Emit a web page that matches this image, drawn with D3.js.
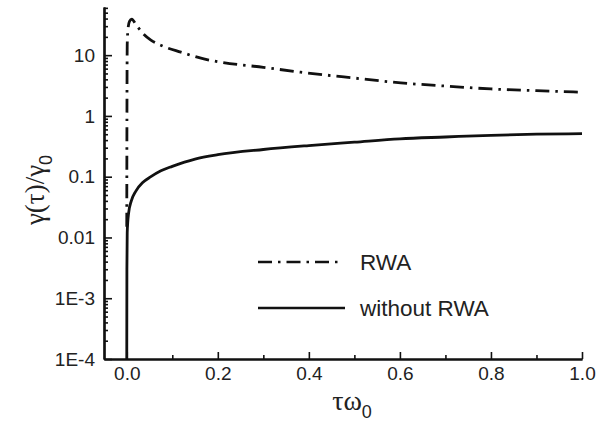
<!DOCTYPE html>
<html>
<head>
<meta charset="utf-8">
<script src="https://cdn.jsdelivr.net/npm/d3@7"></script>
<style>
  body { margin: 0; background: #fff; }
  text { font-family: "Liberation Sans", Arial, sans-serif; fill: #222; }
</style>
</head>
<body>
<svg id="chart" width="611" height="428"></svg>
<script>
// tau*omega0 vs gamma(tau)/gamma0, log y
const rwaTau = [0, 0.0004, 0.001, 0.003, 0.006, 0.011, 0.02, 0.035, 0.053, 0.08, 0.119, 0.163, 0.2, 0.3, 0.382, 0.5, 0.602, 0.7, 0.8, 0.9, 1.0];
const rwaVal = [0.015, 1, 15, 28, 36, 39, 32, 23, 17.7, 14, 11.2, 8.9, 7.8, 6.3, 5.25, 4.2, 3.5, 3.1, 2.78, 2.6, 2.46];

const noRwaTau = [0, 0.0003, 0.001, 0.004, 0.01, 0.02, 0.035, 0.053, 0.075, 0.1, 0.15, 0.2, 0.3, 0.4, 0.5, 0.6, 0.7, 0.8, 0.9, 1.0];
const noRwaVal = [0.0001, 0.003, 0.012, 0.025, 0.04, 0.058, 0.08, 0.1, 0.125, 0.148, 0.195, 0.23, 0.28, 0.325, 0.37, 0.42, 0.45, 0.48, 0.5, 0.51];

const xTicks = [0.0, 0.2, 0.4, 0.6, 0.8, 1.0];
const xMinorTicks = [0.1, 0.3, 0.5, 0.7, 0.9];
const yTicks = [1e-4, 1e-3, 0.01, 0.1, 1, 10];
const yTickLabels = ["1E-4", "1E-3", "0.01", "0.1", "1", "10"];
const legendLabels = ["RWA", "without RWA"];

const svg = d3.select("#chart");
const margin = { top: 7, right: 29, bottom: 69, left: 104 };
const width = 611, height = 428;

const x = d3.scaleLinear()
  .domain([-0.05, 1.0])
  .range([margin.left, width - margin.right]);

const y = d3.scaleLog()
  .domain([1e-4, 62])
  .range([height - margin.bottom, margin.top]);

// minor y ticks 2..9 per decade
const yMinor = [];
for (let d = -4; d <= 1; d++) {
  for (let k = 2; k <= 9; k++) {
    const v = k * Math.pow(10, d);
    if (v <= 62) yMinor.push(v);
  }
}

// axes
svg.append("g")
  .attr("transform", `translate(${margin.left},0)`)
  .call(d3.axisLeft(y).tickValues(yMinor).tickFormat("").tickSize(-4).tickSizeOuter(0));

svg.append("g")
  .attr("transform", `translate(${margin.left},0)`)
  .call(d3.axisLeft(y).tickValues(yTicks)
    .tickFormat((d, i) => yTickLabels[i])
    .tickSize(-8).tickSizeOuter(0).tickPadding(9));

svg.append("g")
  .attr("transform", `translate(0,${height - margin.bottom})`)
  .call(d3.axisBottom(x).tickValues(xMinorTicks).tickFormat("").tickSize(-4).tickSizeOuter(0));

svg.append("g")
  .attr("transform", `translate(0,${height - margin.bottom})`)
  .call(d3.axisBottom(x).tickValues(xTicks).tickFormat(d3.format(".1f"))
    .tickSize(-7).tickSizeOuter(0).tickPadding(8));

svg.selectAll(".domain").attr("stroke", "#111").attr("stroke-width", 2.2);
svg.selectAll(".tick line").attr("stroke", "#111").attr("stroke-width", 1.6);
svg.selectAll(".tick text")
  .attr("font-size", 19)
  .attr("fill", "#222")
  .attr("font-family", "Liberation Sans, Arial, sans-serif");

// lines
const line = d3.line()
  .x(d => x(d[0]))
  .y(d => y(d[1]))
  .curve(d3.curveMonotoneX);

const plot = svg.append("g");

plot.append("path")
  .datum(noRwaTau.map((t, i) => [t, noRwaVal[i]]))
  .attr("fill", "none")
  .attr("stroke", "#111")
  .attr("stroke-width", 2.8)
  .attr("d", line);

plot.append("path")
  .datum(rwaTau.map((t, i) => [t, rwaVal[i]]))
  .attr("fill", "none")
  .attr("stroke", "#111")
  .attr("stroke-width", 2.8)
  .attr("stroke-dasharray", "14,6,2.5,6")
  .attr("d", line);

// legend
const legend = svg.append("g");
const legendStyles = ["14,6,2.5,6", null];
legendLabels.forEach((lab, i) => {
  const ly = 262 + i * 46;
  legend.append("line")
    .attr("x1", 258).attr("x2", i === 0 ? 340 : 345)
    .attr("y1", ly).attr("y2", ly)
    .attr("stroke", "#111")
    .attr("stroke-width", 2.6)
    .attr("stroke-dasharray", legendStyles[i]);
  legend.append("text")
    .attr("x", 360)
    .attr("y", ly + 8)
    .attr("font-size", 22.5)
    .text(lab);
});

// axis titles
const yTitle = svg.append("text")
  .attr("transform", "translate(44,190) rotate(-90)")
  .attr("text-anchor", "middle")
  .attr("font-size", 27);
yTitle.append("tspan").attr("font-family", "Liberation Serif, serif").text("γ(τ)/γ");
yTitle.append("tspan").attr("font-size", 18).attr("dy", 8).text("0");

const xTitle = svg.append("text")
  .attr("x", 352)
  .attr("y", 410)
  .attr("text-anchor", "middle")
  .attr("font-size", 28);
xTitle.append("tspan").attr("font-family", "Liberation Serif, serif").text("τω");
xTitle.append("tspan").attr("font-size", 18).attr("dy", 8).text("0");
</script>
</body>
</html>
